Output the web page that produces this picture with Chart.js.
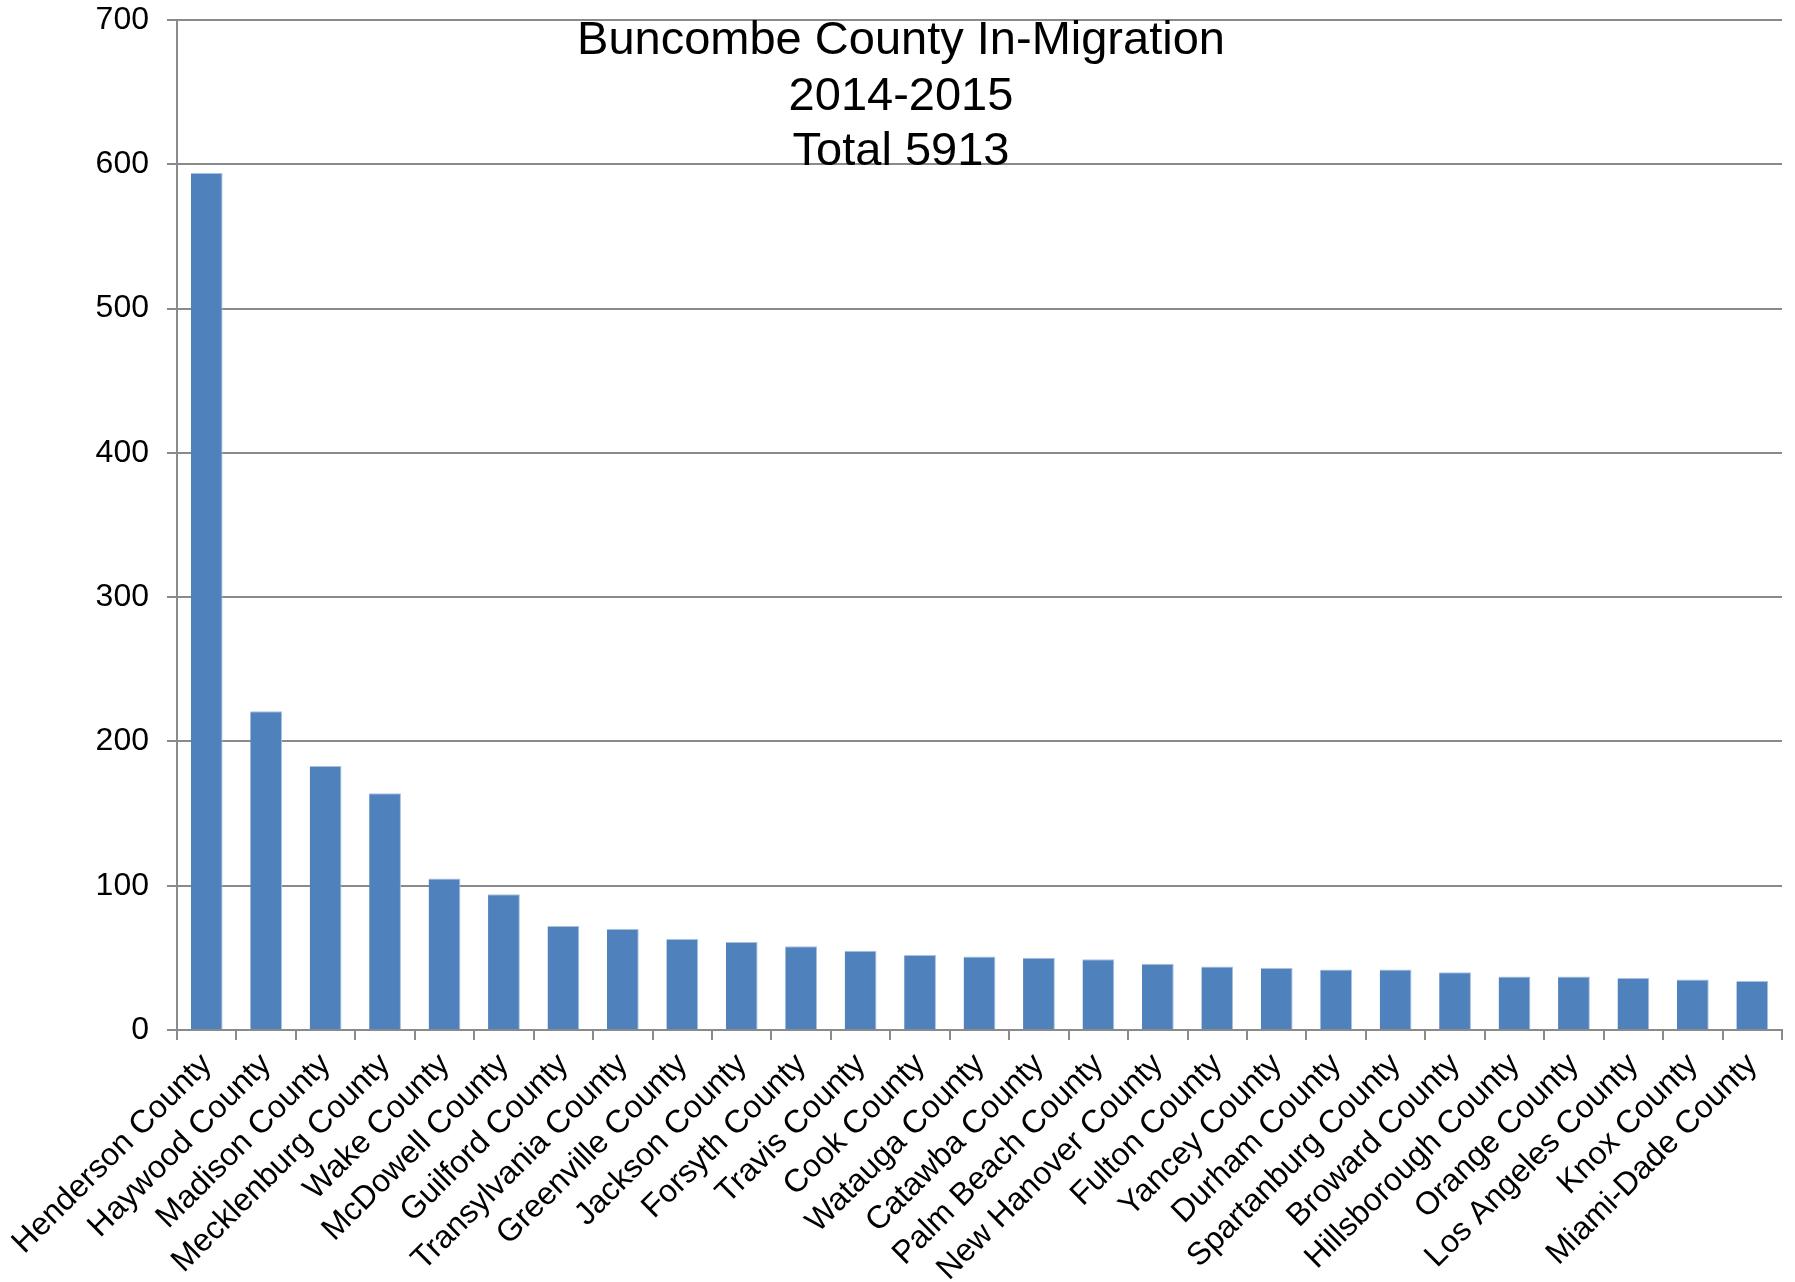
<!DOCTYPE html>
<html>
<head>
<meta charset="utf-8">
<title>Buncombe County In-Migration 2014-2015</title>
<script src="https://cdn.jsdelivr.net/npm/chart.js@4/dist/chart.umd.min.js"></script>
<style>
    html, body { margin: 0; padding: 0; background: #fff; }
    #wrap { position: relative; width: 1795px; height: 1282px; }
</style>
</head>
<body>
<div id="wrap"><canvas id="migrationChart"></canvas></div>
<script>
// ----------------------------- Data -----------------------------------------
const counties = [
    "Henderson County", "Haywood County", "Madison County", "Mecklenburg County",
    "Wake County", "McDowell County", "Guilford County", "Transylvania County",
    "Greenville County", "Jackson County", "Forsyth County", "Travis County",
    "Cook County", "Watauga County", "Catawba County", "Palm Beach County",
    "New Hanover County", "Fulton County", "Yancey County", "Durham County",
    "Spartanburg County", "Broward County", "Hillsborough County", "Orange County",
    "Los Angeles County", "Knox County", "Miami-Dade County"
];
const movers = [
    594, 221, 183, 164, 105, 94, 72, 70, 63, 61, 58, 55, 52, 51,
    50, 49, 46, 44, 43, 42, 42, 40, 37, 37, 36, 35, 34
];
const yTicks = [0, 100, 200, 300, 400, 500, 600, 700];
const titleLines = ["Buncombe County In-Migration", "2014-2015", "Total 5913"];

// ----------------------------- Styles ---------------------------------------
const FONT = "'Liberation Sans', Arial, sans-serif";
const GRID = "#8a8a8a";
const BAR = "#4f81bd";

// title sits inside the plot, over the top gridlines
const titleBlock = {
    id: "titleBlock",
    afterDraw(chart) {
        const ctx = chart.ctx;
        ctx.save();
        ctx.font = `47px ${FONT}`;
        ctx.fillStyle = "#000";
        ctx.textAlign = "center";
        ctx.textBaseline = "alphabetic";
        titleLines.forEach((line, i) => ctx.fillText(line, 901, 54 + i * 55.5));
        ctx.restore();
    },
};

document.addEventListener("DOMContentLoaded", function () {
    const ctx = document.getElementById("migrationChart");

    new Chart(ctx, {
        type: "bar",
        data: {
            labels: counties,
            datasets: [{
                data: movers,
                backgroundColor: BAR,
                borderColor: "#a9c1e0",
                borderWidth: { top: 1, right: 1, left: 0, bottom: 0 },
                barPercentage: 0.535,
                categoryPercentage: 1.0,
            }],
        },
        options: {
            responsive: true,
            maintainAspectRatio: false,
            animation: false,
            layout: { padding: { top: 20, right: 13, left: 0, bottom: 0 } },
            plugins: {
                legend: { display: false },
                tooltip: { enabled: false },
            },
            scales: {
                x: {
                    offset: true,
                    grid: {
                        display: true,
                        drawOnChartArea: false,
                        drawTicks: true,
                        tickLength: 10,
                        offset: true,
                        color: GRID,
                        lineWidth: 2,
                    },
                    border: { display: true, color: GRID, width: 2 },
                    ticks: {
                        autoSkip: false,
                        maxRotation: 45,
                        minRotation: 45,
                        padding: 6,
                        color: "#000",
                        font: { family: FONT, size: 32 },
                    },
                    afterFit(scale) { scale.height = 252; },
                },
                y: {
                    min: 0,
                    max: 700,
                    grid: { color: GRID, lineWidth: 2, tickLength: 10 },
                    border: { display: true, color: GRID, width: 2 },
                    ticks: {
                        padding: 18,
                        color: "#000",
                        font: { family: FONT, size: 32 },
                    },
                    afterBuildTicks(scale) {
                        scale.ticks = yTicks.map((v) => ({ value: v }));
                    },
                    afterFit(scale) {
                        // fixed axis width; labels may overhang the top/bottom padding
                        scale.width = 177;
                        scale.paddingTop = 0;
                        scale.paddingBottom = 0;
                    },
                },
            },
        },
        plugins: [titleBlock],
    });
});
</script>
</body>
</html>
